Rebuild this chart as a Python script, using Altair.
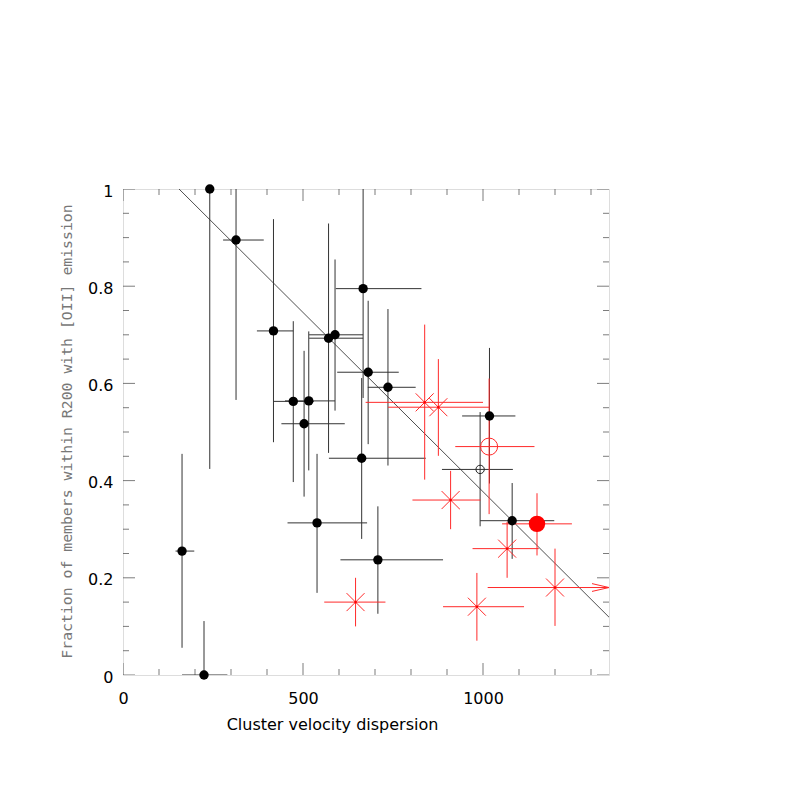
import altair as alt
import pandas as pd

# ---------------- data ----------------
# black filled points
blk_x   = [164, 225, 241, 314, 418, 473, 516, 503, 539, 571, 589, 663, 667, 681, 708, 736, 1018, 1081]
blk_y   = [0.255, 0.0, 1.0, 0.895, 0.708, 0.563, 0.564, 0.517, 0.313, 0.693, 0.700, 0.446, 0.795, 0.623, 0.237, 0.592, 0.533, 0.3175]
blk_xlo = [146, 164, 241, 278, 372, 417, 450, 440, 457, 517, 517, 572, 591, 595, 604, 680, 942, 992]
blk_xhi = [198, 290, 241, 391, 473, 530, 589, 616, 678, 667, 667, 841, 829, 766, 889, 813, 1090, 1198]
blk_ylo = [0.056, 0.0, 0.424, 0.566, 0.479, 0.397, 0.421, 0.367, 0.169, 0.457, 0.544, 0.280, 0.570, 0.475, 0.126, 0.431, 0.394, 0.239]
blk_yhi = [0.455, 0.111, 1.0, 1.0, 0.938, 0.728, 0.707, 0.667, 0.455, 0.929, 0.855, 0.611, 1.0, 0.770, 0.347, 0.753, 0.673, 0.395]

# black open circle
bo_x, bo_y = [992], [0.423]
bo_xlo, bo_xhi = [886], [1083]
bo_ylo, bo_yhi = [0.306], [0.541]

# red stars
rs_x   = [838, 876, 646, 910, 983, 1067, 1200]
rs_y   = [0.561, 0.551, 0.150, 0.360, 0.1405, 0.260, 0.180]
rs_xlo = [674, 736, 559, 804, 889, 971, 1013]
rs_xhi = [1000, 1017, 729, 993, 1114, 1155, 1350]
rs_ylo = [0.402, 0.451, 0.100, 0.300, 0.0706, 0.200, 0.101]
rs_yhi = [0.721, 0.650, 0.200, 0.420, 0.210, 0.315, 0.260]

# red open circle
ro_x, ro_y = [1017], [0.470]
ro_xlo, ro_xhi = [923], [1143]
ro_ylo, ro_yhi = [0.331], [0.610]

# red big filled circle
rb_x, rb_y = [1150], [0.311]
rb_xlo, rb_xhi = [1053], [1247]
rb_ylo, rb_yhi = [0.246], [0.374]

# lower-limit arrow
arrow_x, arrow_y = [1350], [0.180]

# fitted line end points
fit_x = [155.6, 1350]
fit_y = [1.0, 0.119]

# ticks
x_major = [0, 500, 1000]
x_minor = [100, 200, 300, 400, 600, 700, 800, 900, 1100, 1200, 1300]
y_major = [0, 0.2, 0.4, 0.6, 0.8, 1]
y_minor = [0.05, 0.1, 0.15, 0.25, 0.3, 0.35, 0.45, 0.5, 0.55, 0.65, 0.7, 0.75, 0.85, 0.9, 0.95]

x_labels = [0, 500, 1000]
y_labels = [0, 0.2, 0.4, 0.6, 0.8, 1]

# ---------------- frames ----------------
def frame(x, y, xlo, xhi, ylo, yhi):
    return pd.DataFrame({"x": x, "y": y, "xlo": xlo, "xhi": xhi, "ylo": ylo, "yhi": yhi})

blk = frame(blk_x, blk_y, blk_xlo, blk_xhi, blk_ylo, blk_yhi)
bo = frame(bo_x, bo_y, bo_xlo, bo_xhi, bo_ylo, bo_yhi)
rs = frame(rs_x, rs_y, rs_xlo, rs_xhi, rs_ylo, rs_yhi)
ro = frame(ro_x, ro_y, ro_xlo, ro_xhi, ro_ylo, ro_yhi)
rb = frame(rb_x, rb_y, rb_xlo, rb_xhi, rb_ylo, rb_yhi)
arrow = pd.DataFrame({"x": arrow_x, "y": arrow_y})
fit = pd.DataFrame({"x": fit_x, "y": fit_y})

def xticks(vals):
    return pd.DataFrame({"x": [v for v in vals for _ in (0, 1)],
                         "y": [e for _ in vals for e in (0, 1)]})

def yticks(vals):
    return pd.DataFrame({"y": [v for v in vals for _ in (0, 1)],
                         "x": [e for _ in vals for e in (0, 1350)]})

# ---------------- scales / axes ----------------
xs = alt.Scale(domain=[0, 1350], nice=False, zero=False)
ys = alt.Scale(domain=[0, 1], nice=False, zero=False)

xaxis = alt.Axis(
    values=x_labels, format="d", ticks=False, tickSize=0, domain=False, grid=False,
    labelFont="DejaVu Sans", labelFontSize=16, labelColor="#000", labelFlush=False,
    labelPadding=28, labelBaseline="alphabetic",
    title="Cluster velocity dispersion", titleFont="DejaVu Sans", titleFontSize=16,
    titleFontWeight="normal", titleColor="#000", titleX=209, titleY=54,
    titleAlign="center", titleBaseline="alphabetic", titleAngle=0,
)
yaxis = alt.Axis(
    values=y_labels, format="~g", ticks=False, tickSize=0, domain=False, grid=False,
    labelFont="DejaVu Sans", labelFontSize=16, labelColor="#000", labelFlush=False,
    labelPadding=10, labelBaseline="middle", labelOffset=2,
    labelExpr="datum.value == 0 || datum.value == 1 ? datum.label : datum.label + '\u2002'",
    title="Fraction of members within R200 with [OII] emission",
    titleFont="DejaVu Sans Mono", titleFontSize=14.8, titleFontWeight="normal",
    titleColor="#777", titleX=-52, titleY=242, titleAngle=270,
    titleAlign="center", titleBaseline="alphabetic",
)

def X(f):
    return alt.X(f"{f}:Q", scale=xs, axis=xaxis)

def Y(f):
    return alt.Y(f"{f}:Q", scale=ys, axis=yaxis)

BLACK_BAR = "#333333"
RED = "#ff2a2a"

def bars(df, color):
    h = alt.Chart(df).mark_rule(color=color, strokeWidth=1, clip=True).encode(
        x=X("xlo"), x2=alt.X2("xhi"), y=Y("y"))
    v = alt.Chart(df).mark_rule(color=color, strokeWidth=1, clip=True).encode(
        x=X("x"), y=Y("ylo"), y2=alt.Y2("yhi"))
    return [h, v]

layers = []

# ticks (inward, drawn through the scales and clipped at the frame)
layers.append(alt.Chart(xticks(x_major)).mark_tick(orient="vertical", size=24, thickness=1,
              color="#444", clip=True).encode(x=X("x"), y=Y("y")))
layers.append(alt.Chart(xticks(x_minor)).mark_tick(orient="vertical", size=12, thickness=1,
              color="#444", clip=True).encode(x=X("x"), y=Y("y")))
layers.append(alt.Chart(yticks(y_major)).mark_tick(orient="horizontal", size=24, thickness=1,
              color="#444", clip=True).encode(x=X("x"), y=Y("y")))
layers.append(alt.Chart(yticks(y_minor)).mark_tick(orient="horizontal", size=12, thickness=1,
              color="#444", clip=True).encode(x=X("x"), y=Y("y")))

# fitted line
layers.append(alt.Chart(fit).mark_line(color="#222", strokeWidth=0.8, clip=True).encode(
    x=X("x"), y=Y("y")))

# error bars
layers += bars(blk, BLACK_BAR)
layers += bars(bo, BLACK_BAR)
layers += bars(rs, RED)
layers += bars(ro, RED)
layers += bars(rb, RED)

# symbols
layers.append(alt.Chart(blk).mark_point(shape="circle", filled=True, size=88, color="#000",
              opacity=1).encode(x=X("x"), y=Y("y")))
layers.append(alt.Chart(bo).mark_point(shape="circle", filled=False, size=70, color="#222",
              strokeWidth=1, opacity=1).encode(x=X("x"), y=Y("y")))
layers.append(alt.Chart(rs).mark_point(shape="M-1,-1L1,1M-1,1L1,-1", filled=False, size=324,
              color=RED, strokeWidth=1, opacity=1).encode(x=X("x"), y=Y("y")))
layers.append(alt.Chart(rs).mark_point(shape="square", filled=True, size=5, color="#ff0000",
              opacity=1).encode(x=X("x"), y=Y("y")))
layers.append(alt.Chart(ro).mark_point(shape="circle", filled=False, size=290, color=RED,
              strokeWidth=1, opacity=1).encode(x=X("x"), y=Y("y")))
layers.append(alt.Chart(rb).mark_point(shape="circle", filled=True, size=270, color="#ff0000",
              opacity=1).encode(x=X("x"), y=Y("y")))
layers.append(alt.Chart(arrow).mark_point(shape="M-1,-0.23L0,0L-1,0.23", filled=False, size=1156,
              color=RED, strokeWidth=1, opacity=1).encode(x=X("x"), y=Y("y")))

chart = alt.layer(*layers).properties(
    width=486, height=486,
    autosize=alt.AutoSizeParams(type="none"),
    padding={"left": 115, "top": 181, "right": 40, "bottom": 100},
).configure_view(stroke="#333", strokeWidth=1).configure(background="white")

chart.save("out.html", embed_options={"renderer": "svg", "actions": False})
